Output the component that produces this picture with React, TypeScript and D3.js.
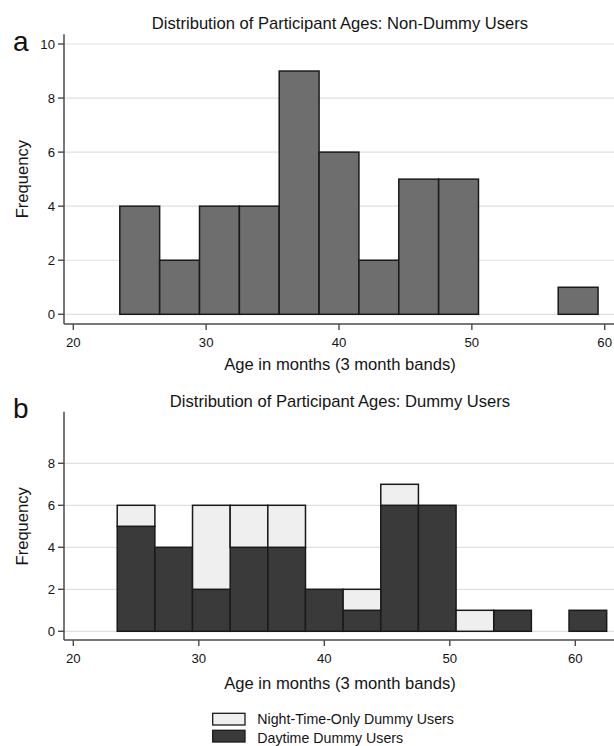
import React from "react";
import * as d3 from "d3";

const binStartsA = [23.5, 26.5, 29.5, 32.5, 35.5, 38.5, 41.5, 44.5, 47.5, 50.5, 53.5, 56.5];
const nonDummy = [4, 2, 4, 4, 9, 6, 2, 5, 5, 0, 0, 1];

const binStartsB = [23.5, 26.5, 29.5, 32.5, 35.5, 38.5, 41.5, 44.5, 47.5, 50.5, 53.5, 56.5, 59.5];
const daytime = [5, 4, 2, 4, 4, 2, 1, 6, 6, 0, 1, 0, 1];
const nightOnly = [1, 0, 4, 2, 2, 0, 1, 1, 0, 1, 0, 0, 0];

const binWidth = 3;
const xTicks = [20, 30, 40, 50, 60];
const yTicksA = [0, 2, 4, 6, 8, 10];
const yTicksB = [0, 2, 4, 6, 8];

const titleA = "Distribution of Participant Ages: Non-Dummy Users";
const titleB = "Distribution of Participant Ages: Dummy Users";
const xLabel = "Age in months (3 month bands)";
const yLabel = "Frequency";
const legendLabels = ["Night-Time-Only Dummy Users", "Daytime Dummy Users"];

const FONT = "'Liberation Sans', Arial, Helvetica, sans-serif";
const AXIS = "#4a4a4a";
const GRID = "#e0e0e0";
const STROKE = "#1a1a1a";
const TEXT = "#141414";

type PanelProps = {
  x: d3.ScaleLinear<number, number>;
  y: d3.ScaleLinear<number, number>;
  yTicks: number[];
  axisY: number;
  axisTop: number;
  left: number;
  right: number;
  tickBaseline: number;
  labelBaseline: number;
  title: string;
  titleBaseline: number;
  letter: string;
  letterBaseline: number;
  children?: React.ReactNode;
};

function Panel(p: PanelProps) {
  const midY = (p.y(0) + p.y(10)) / 2;
  return (
    <g>
      {p.yTicks.map((t) => (
        <line key={"g" + t} x1={p.left} x2={p.right} y1={p.y(t)} y2={p.y(t)} stroke={GRID} strokeWidth={1.2} />
      ))}
      {p.children}
      <line x1={p.left} x2={p.left} y1={p.axisTop} y2={p.axisY} stroke={AXIS} strokeWidth={1.5} />
      {p.yTicks.map((t) => (
        <g key={"y" + t}>
          <line x1={p.left - 6} x2={p.left} y1={p.y(t)} y2={p.y(t)} stroke={AXIS} strokeWidth={1.4} />
          <text x={p.left - 9} y={p.y(t) + 4.7} textAnchor="end" fontSize={13.2} fontFamily={FONT} fill={TEXT}>
            {t}
          </text>
        </g>
      ))}
      <line x1={p.left} x2={p.right} y1={p.axisY} y2={p.axisY} stroke={AXIS} strokeWidth={1.5} />
      {xTicks.map((t) => (
        <g key={"x" + t}>
          <line x1={p.x(t)} x2={p.x(t)} y1={p.axisY} y2={p.axisY + 6} stroke={AXIS} strokeWidth={1.4} />
          <text x={p.x(t)} y={p.tickBaseline} textAnchor="middle" fontSize={13.2} fontFamily={FONT} fill={TEXT}>
            {t}
          </text>
        </g>
      ))}
      <text x={340} y={p.labelBaseline} textAnchor="middle" fontSize={16.6} fontFamily={FONT} fill={TEXT}>
        {xLabel}
      </text>
      <text
        transform={`translate(28,${midY}) rotate(-90)`}
        textAnchor="middle"
        fontSize={16.6}
        fontFamily={FONT}
        fill={TEXT}
      >
        {yLabel}
      </text>
      <text x={340} y={p.titleBaseline} textAnchor="middle" fontSize={16.6} fontFamily={FONT} fill={TEXT}>
        {p.title}
      </text>
      <text x={13} y={p.letterBaseline} fontSize={28} fontFamily={FONT} fill="#111">
        {p.letter}
      </text>
    </g>
  );
}

export default function App() {
  const xA = d3.scaleLinear().domain([20, 60]).range([73.3, 604.7]);
  const yA = d3.scaleLinear().domain([0, 10]).range([314.3, 44]);
  const xB = d3.scaleLinear().domain([20, 60]).range([73.3, 575.3]);
  const yB = d3.scaleLinear().domain([0, 8]).range([631.3, 463.3]);

  const tableB = binStartsB.map((s, i) => ({ start: s, daytime: daytime[i], night: nightOnly[i] }));
  const stacked = d3.stack<any>().keys(["daytime", "night"])(tableB);
  const fills: Record<string, string> = { daytime: "#3a3a3a", night: "#efefef" };

  return (
    <svg width={614} height={746} style={{ position: "absolute", left: 0, top: 0, background: "#fff" }}>
      <rect x={0} y={0} width={614} height={746} fill="#fff" />
      <Panel
        x={xA}
        y={yA}
        yTicks={yTicksA}
        axisY={324}
        axisTop={34.3}
        left={64}
        right={614}
        tickBaseline={347.3}
        labelBaseline={370}
        title={titleA}
        titleBaseline={29.3}
        letter="a"
        letterBaseline={50.7}
      >
        {binStartsA.map((s, i) =>
          nonDummy[i] > 0 ? (
            <rect
              key={i}
              x={xA(s)}
              y={yA(nonDummy[i])}
              width={xA(s + binWidth) - xA(s)}
              height={yA(0) - yA(nonDummy[i])}
              fill="#6e6e6e"
              stroke={STROKE}
              strokeWidth={1.5}
            />
          ) : null
        )}
      </Panel>
      <Panel
        x={xB}
        y={yB}
        yTicks={yTicksB}
        axisY={640}
        axisTop={411.7}
        left={64}
        right={614}
        tickBaseline={663}
        labelBaseline={689}
        title={titleB}
        titleBaseline={406.7}
        letter="b"
        letterBaseline={418.3}
      >
        {stacked.map((layer) =>
          layer.map((d, i) =>
            d[1] - d[0] > 0 ? (
              <rect
                key={layer.key + i}
                x={xB(binStartsB[i])}
                y={yB(d[1])}
                width={xB(binStartsB[i] + binWidth) - xB(binStartsB[i])}
                height={yB(d[0]) - yB(d[1])}
                fill={fills[layer.key]}
                stroke={STROKE}
                strokeWidth={1.5}
              />
            ) : null
          )
        )}
      </Panel>
      {legendLabels.map((lab, i) => (
        <g key={lab}>
          <rect
            x={212.7}
            y={713.3 + i * 17}
            width={32.3}
            height={11.7}
            fill={i === 0 ? "#efefef" : "#3a3a3a"}
            stroke={STROKE}
            strokeWidth={1.3}
          />
          <text x={257.3} y={724 + i * 19.3} fontSize={14.2} fontFamily={FONT} fill={TEXT}>
            {lab}
          </text>
        </g>
      ))}
    </svg>
  );
}
